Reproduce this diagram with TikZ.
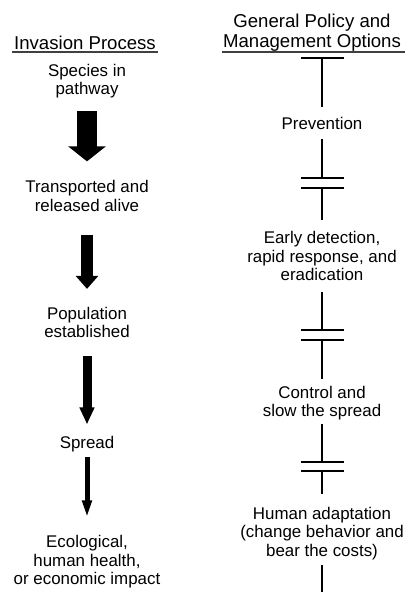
\documentclass[tikz,border=0pt]{standalone}
\usepackage{fontspec}
\setmainfont{Liberation Sans}
\usetikzlibrary{arrows.meta, positioning}

\tikzset{
  txt/.style={font=\fontsize{16.9}{18.5}\selectfont, align=center, inner sep=0pt},
  head/.style={font=\fontsize{18.6}{20}\selectfont, align=center, inner sep=0pt},
  rule/.style={black!75, line width=1.2pt},
  fat_arrow/.style n args={3}{line width=#1, -{Triangle[length=#2, width=#3]}},
  bar/.style={fill=black, inner sep=0pt, minimum width=43pt, minimum height=1.8pt},
  stem/.style={line width=1.5pt}
}

\begin{document}
\begin{tikzpicture}[x=1pt, y=-1pt]
    \useasboundingbox (0,0) rectangle (411,592);

    % headers
    \node[head] (head_left) at (85,42.5) {Invasion Process};
    \node[head] (head_right) at (312,33) {General Policy and\\Management Options};
    \draw[rule] (12,52) -- (158,52);
    \draw[rule] (222,52) -- (405,52);

    % invasion process
    \node[txt] (species) at (87,81) {Species in\\pathway};
    \node[txt] (transported) at (87,196) {Transported and\\released alive};
    \node[txt] (population) at (87,322.5) {Population\\established};
    \node[txt] (spread) at (87,444.5) {Spread};
    \node[txt] (impact) at (87,562) {Ecological,\\human health,\\or economic impact};

    \draw[fat_arrow={20pt}{15pt}{37pt}, shorten <=13pt, shorten >=19pt] (species) -- (transported);
    \draw[fat_arrow={11.5pt}{13pt}{22pt}, shorten <=23pt, shorten >=18pt] (transported) -- (population);
    \draw[fat_arrow={9pt}{17pt}{14pt}, shorten <=18pt, shorten >=12pt] (population) -- (spread);
    \draw[fat_arrow={5pt}{17pt}{9pt}, shorten <=4pt, shorten >=18pt] (spread) -- (impact);

    % policy and management options
    \node[bar] (bar_top) at (322,58) {};
    \node[txt] (prevention) at (322,123.5) {Prevention};
    \node[bar] (bar_2a) at (322,178) {};
    \node[bar] (bar_2b) at (322,188) {};
    \node[txt] (early) at (322,256) {Early detection,\\rapid response, and\\eradication};
    \node[bar] (bar_3a) at (322,330) {};
    \node[bar] (bar_3b) at (322,340) {};
    \node[txt] (control) at (322,403) {Control and\\slow the spread};
    \node[bar] (bar_4a) at (322,462) {};
    \node[bar] (bar_4b) at (322,471) {};
    \node[txt] (adaptation) at (322,533.5) {Human adaptation\\(change behavior and\\bear the costs)};
    \coordinate (bottom_end) at (322,592);

    \draw[stem, shorten >=10pt] (bar_top) -- (prevention);
    \draw[stem, shorten <=9pt] (prevention) -- (bar_2a);
    \draw[stem, shorten >=11pt] (bar_2b) -- (early);
    \draw[stem, shorten <=11pt] (early) -- (bar_3a);
    \draw[stem, shorten >=7pt] (bar_3b) -- (control);
    \draw[stem, shorten <=4pt] (control) -- (bar_4a);
    \draw[stem, shorten >=13pt] (bar_4b) -- (adaptation);
    \draw[stem, shorten <=5pt] (adaptation) -- (bottom_end);
\end{tikzpicture}
\end{document}
